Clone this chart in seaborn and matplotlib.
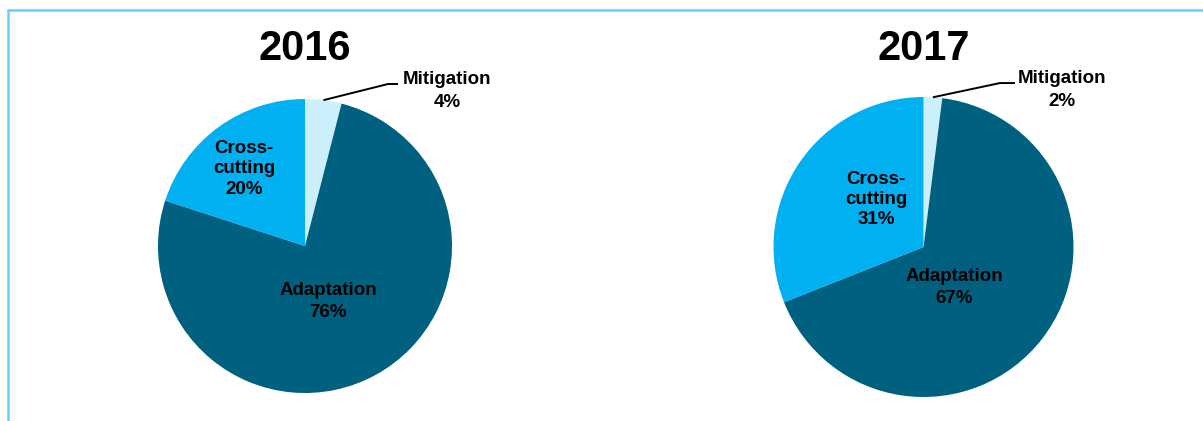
import numpy as np
import matplotlib
matplotlib.use("Agg")
import matplotlib.pyplot as plt
import seaborn as sns

# ---- data ----
years = ["2016", "2017"]
categories = ["Mitigation", "Adaptation", "Cross-cutting"]
label_text = ["Mitigation", "Adaptation", "Cross-\ncutting"]
values_2016 = [4, 76, 20]
values_2017 = [2, 67, 31]
colors = ["#CCEFFC", "#00607F", "#00B0F0"]

sns.set_theme(style="white")
plt.rcParams['font.family'] = ['Liberation Sans', 'DejaVu Sans']

W, H = 1203, 421
fig = plt.figure(figsize=(W / 100, H / 100), dpi=100)
ax = fig.add_axes([0, 0, 1, 1])

# layout (pixel space, y up)
centers = [(305, 175), (923.5, 174)]
radii = [147, 150]
# label positions relative to pie center, in units of radius
inside_pos = [
    {"Adaptation": (0.156, -0.375), "Cross-cutting": (-0.415, 0.525)},
    {"Adaptation": (0.203, -0.272), "Cross-cutting": (-0.317, 0.318)},
]
mitig_pos = [(0.966, 1.055), (0.923, 1.047)]
elbows = [((0.565, 1.102), (0.633, 1.102)), ((0.51, 1.093), (0.61, 1.093))]

for i, (yr, vals) in enumerate(zip(years, [values_2016, values_2017])):
    cx, cy = centers[i]
    r = radii[i]
    ax.pie(vals, colors=colors, startangle=90, counterclock=False,
           center=(cx, cy), radius=r, frame=True,
           wedgeprops=dict(linewidth=0))
    ax.text(cx, H - 49, yr, ha="center", va="center", fontsize=30,
            fontweight="bold", color="black")
    total = sum(vals)
    for cat, lab, v in zip(categories, label_text, vals):
        pct = f"{round(100 * v / total)}%"
        if cat == "Mitigation":
            # leader line from wedge mid-angle on edge
            mid = np.deg2rad(90 - 360 * v / total / 2)
            x0, y0 = cx + r * np.cos(mid), cy + r * np.sin(mid)
            (ex, ey), (fx, fy) = elbows[i]
            ax.plot([x0, cx + ex * r, cx + fx * r], [y0, cy + ey * r, cy + fy * r],
                    color="black", lw=1.4, solid_capstyle="butt")
            px, py = mitig_pos[i]
            ax.text(cx + px * r, cy + py * r, f"{lab}\n{pct}", ha="center",
                    va="center", fontsize=13.5, fontweight="bold", color="black",
                    linespacing=1.4)
        else:
            px, py = inside_pos[i][cat]
            ax.text(cx + px * r, cy + py * r, f"{lab}\n{pct}", ha="center",
                    va="center", fontsize=13.5, fontweight="bold", color="black",
                    linespacing=1.25 if "\n" in lab else 1.4)

# frame lines (top and left)
frame_col = "#66D0F8"
ax.plot([8, W + 5], [H - 10, H - 10], color=frame_col, lw=1.8)
ax.plot([8, 8], [H - 10, -5], color=frame_col, lw=1.8)

ax.set_xlim(0, W)
ax.set_ylim(0, H)
ax.set_aspect("auto")
ax.axis("off")

fig.savefig("out.png", dpi=100, facecolor="white")
